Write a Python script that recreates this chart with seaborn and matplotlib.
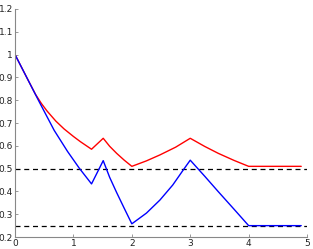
import pandas as pd
import matplotlib
matplotlib.use('Agg')
import matplotlib.pyplot as plt
import seaborn as sns
from matplotlib.ticker import FuncFormatter

# Values
blue_x = [0, 0.2, 0.41, 0.67, 0.9, 1.1, 1.31, 1.51, 1.62, 1.74, 1.87, 2.0,
          2.25, 2.48, 2.7, 2.88, 3.0, 3.25, 3.48, 3.75, 4.0, 4.9]
blue_y = [1.0, 0.90, 0.795, 0.668, 0.575, 0.502, 0.433, 0.535, 0.462, 0.395, 0.326, 0.258,
          0.305, 0.362, 0.428, 0.494, 0.537, 0.466, 0.399, 0.322, 0.25, 0.25]

red_x = [0, 0.2, 0.35, 0.45, 0.55, 0.7, 0.84, 1.0, 1.12, 1.31, 1.51, 1.62, 1.74, 1.87, 2.0,
         2.25, 2.48, 2.75, 3.0, 3.25, 3.48, 3.75, 4.0, 4.9]
red_y = [1.0, 0.90, 0.826, 0.786, 0.752, 0.708, 0.674, 0.641, 0.618, 0.585, 0.633, 0.598,
         0.567, 0.537, 0.51, 0.534, 0.56, 0.594, 0.633, 0.597, 0.567, 0.536, 0.51, 0.51]

ref_levels = [0.5, 0.25]
x_range = [0, 5]

sns.set_style('ticks')
plt.rcParams['font.family'] = ['DejaVu Sans']

fig = plt.figure(figsize=(3.13, 2.49), dpi=100)
ax = fig.add_axes([0.048, 0.048, 0.933, 0.916])

df_blue = pd.DataFrame({'x': blue_x, 'y': blue_y})
df_red = pd.DataFrame({'x': red_x, 'y': red_y})

# dashed reference levels
for level in ref_levels:
    ax.plot(x_range, [level, level], color='black', lw=0.9, ls=(0, (4, 3)))

sns.lineplot(data=df_red, x='x', y='y', ax=ax, sort=False, estimator=None,
             color='#ff0000', lw=1.0)
sns.lineplot(data=df_blue, x='x', y='y', ax=ax, sort=False, estimator=None,
             color='#0000ff', lw=1.0)

ax.set_xlim(0, 5)
ax.set_ylim(0.2, 1.2)
ax.set_xticks(range(0, 6))
ax.set_yticks([0.2 + 0.1 * i for i in range(11)])
ax.yaxis.set_major_formatter(FuncFormatter(lambda v, p: f'{round(v, 1):g}'))
ax.set_xlabel('')
ax.set_ylabel('')

sns.despine(ax=ax)
for side in ['left', 'bottom']:
    ax.spines[side].set_color('#888888')
    ax.spines[side].set_linewidth(0.8)
ax.tick_params(direction='in', length=2.5, width=0.6, color='#888888',
               labelsize=6.5, pad=1.5, labelcolor='#222222')

fig.savefig('out.png', dpi=100)
